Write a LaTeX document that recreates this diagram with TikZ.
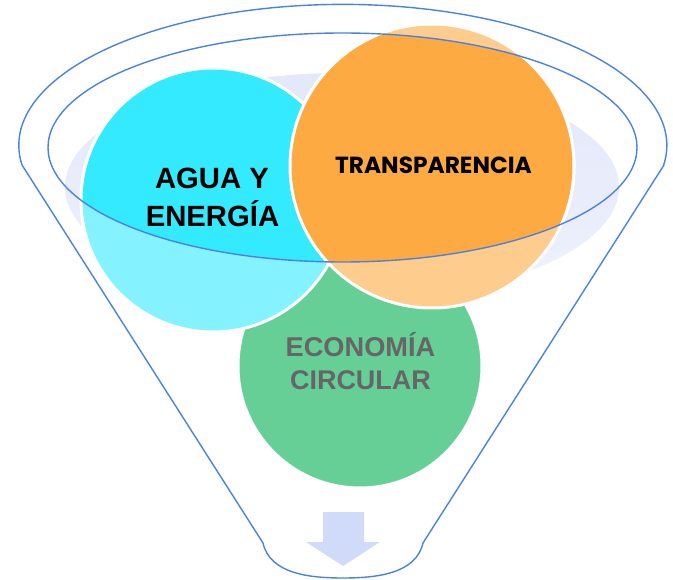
\documentclass[tikz,border=0pt]{standalone}
\usepackage{fontspec}
\setmainfont{Liberation Sans}
\newfontfamily\popfont{Poppins}
\definecolor{funnelblue}{HTML}{4A82E4}
\definecolor{lav}{HTML}{E3E8FA}
\definecolor{lavlight}{HTML}{EEF1FC}
\definecolor{cyanbright}{HTML}{33EAFF}
\definecolor{cyanlight}{HTML}{85F3FF}
\definecolor{orbright}{HTML}{FDAA42}
\definecolor{orlight}{HTML}{FECC8D}
\definecolor{greenc}{HTML}{66CF96}
\definecolor{arrowc}{HTML}{CFDBF8}
\definecolor{greytext}{HTML}{666666}
\begin{document}
\begin{tikzpicture}[x=1pt,y=-1pt,
  ring/.style={draw=white,line width=3pt},
  funnel/.style={draw=funnelblue,line width=1.4pt,line join=round},
  lbl/.style={anchor=base,inner sep=0pt,font=\bfseries}]
\useasboundingbox (0,0) rectangle (673,580);
% lavender back ellipse
\shade[top color=lav,bottom color=lavlight] (342,187) ellipse [x radius=277,y radius=114];
% circles, light versions
\fill[greenc,ring] (360,366) circle [radius=122];
\fill[cyanlight,ring] (213,200) circle [radius=132];
\fill[orlight,ring] (432,166) circle [radius=142];
% bright parts inside inner ellipse
\begin{scope}
\clip (342.5,147.5) ellipse [x radius=294.5,y radius=114.5];
\fill[cyanbright,ring] (213,200) circle [radius=132];
\fill[orbright,ring] (432,166) circle [radius=142];
\end{scope}
% funnel
\draw[funnel] (342.5,147.5) ellipse [x radius=294.5,y radius=114.5];
\coordinate (lt) at (22,165);
\coordinate (rt) at (664,165);
\coordinate (lb) at (263,543);
\coordinate (rb) at (423,543);
\coordinate (bot) at (343,578);
\draw[funnel] (lt) arc[start angle=172,end angle=368,x radius=324,y radius=141];
\draw[funnel] (lt) -- (lb) .. controls (270,574) and (310,578) .. (bot)
  .. controls (376,578) and (416,574) .. (rb) -- (rt);
% arrow
\fill[arrowc] (323,512) -- (364,512) -- (364,542) -- (380,542) -- (343,566)
  -- (306,542) -- (323,542) -- cycle;
% texts
\node[lbl,font=\fontsize{29.3}{30}\selectfont\bfseries] (a1) at (212,189) {AGUA Y};
\node[lbl,font=\fontsize{29.3}{30}\selectfont\bfseries] (a2) at (212.5,227) {ENERGÍA};
\node[lbl,font=\fontsize{23.3}{25}\selectfont\popfont\bfseries] (t) at (433.5,174) {TRANSPARENCIA};
\node[lbl,text=greytext,font=\fontsize{27.2}{28}\selectfont\bfseries] (e1) at (360.5,357) {ECONOMÍA};
\node[lbl,text=greytext,font=\fontsize{27}{28}\selectfont\bfseries] (e2) at (360.5,390) {CIRCULAR};
\end{tikzpicture}
\end{document}
